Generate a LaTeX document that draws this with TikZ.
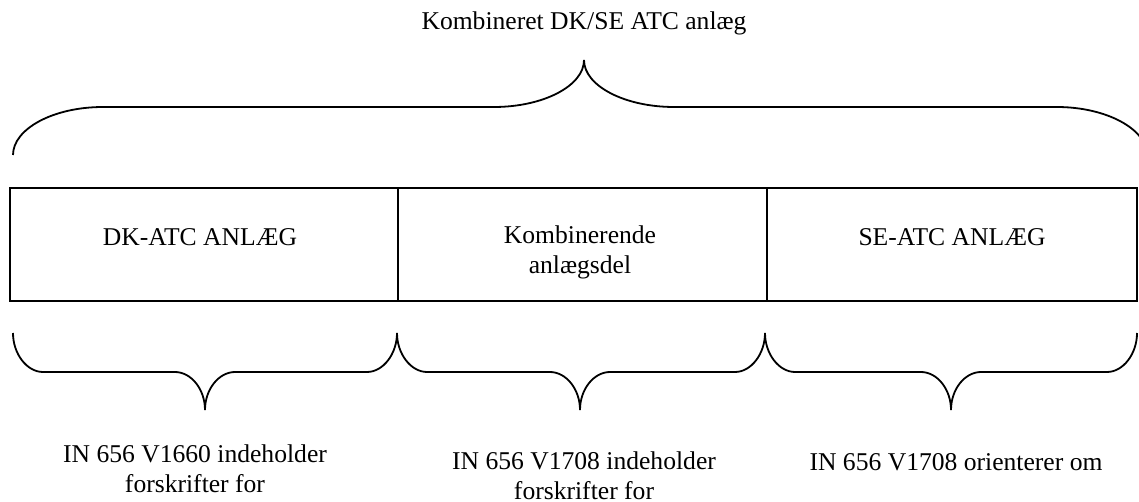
\documentclass[tikz,border=0pt]{standalone}
\usepackage{fontspec}
\setmainfont{Liberation Serif}
\begin{document}
\begin{tikzpicture}[x=0.5pt, y=-0.5pt, line width=0.9pt,
    part/.style={draw, rectangle, minimum height=56.5pt, inner sep=0pt, outer sep=0pt, anchor=north west},
    txt/.style={font=\fontsize{12.8}{15}\selectfont, inner sep=0pt, align=center, anchor=base}]
    \useasboundingbox (0,0) rectangle (1139,502);

    % Title and top brace
    \node[txt] (title) at (584,30) {Kombineret DK/SE ATC anlæg};
    \draw (13,155) .. controls (13,129) and (53,107) .. (103,107) -- (494,107)
        .. controls (543,107) and (584,86) .. (584,60)
        .. controls (584,86) and (625,107) .. (674,107) -- (1057,107)
        .. controls (1106,107) and (1147,129) .. (1147,155);

    % Three parts of the plant
    \node[part, minimum width=194pt] (dkpart) at (10,188) {};
    \node[part, minimum width=184.5pt] (kombpart) at (dkpart.north east) {};
    \node[part, minimum width=185pt] (separt) at (kombpart.north east) {};
    \node[txt] (dklabel) at (200,245) {DK-ATC ANLÆG};
    \node[txt] (komblabel) at (580,273) {Kombinerende\\anlægsdel};
    \node[txt] (selabel) at (952,245) {SE-ATC ANLÆG};

    % Lower braces
    \foreach \l/\t/\r in {13/205/397, 397/580/765, 765/951/1137}
        \draw (\l,333) .. controls (\l,354) and ({\l+14},372) .. ({\l+30},372) -- ({\t-30},372)
            .. controls ({\t-14},372) and (\t,389) .. (\t,410)
            .. controls (\t,389) and ({\t+14},372) .. ({\t+30},372) -- ({\r-30},372)
            .. controls ({\r-14},372) and (\r,354) .. (\r,333);

    % Documents for each part
    \node[txt] (dknote) at (195,492) {IN 656 V1660 indeholder\\forskrifter for};
    \node[txt] (kombnote) at (584,499) {IN 656 V1708 indeholder\\forskrifter for};
    \node[txt] (senote) at (956,470) {IN 656 V1708 orienterer om};
\end{tikzpicture}
\end{document}
